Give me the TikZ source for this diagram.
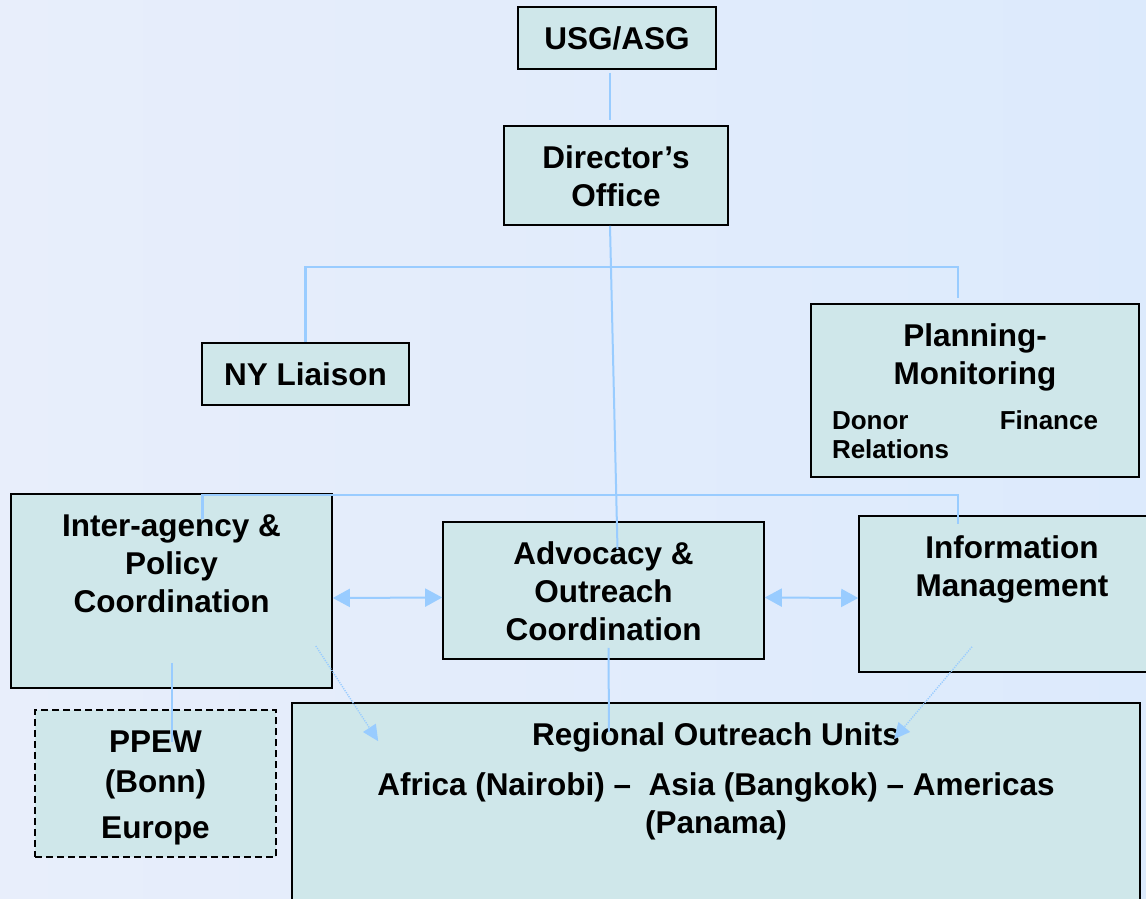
\documentclass[tikz,border=0pt]{standalone}
\usepackage{fontspec}
\setmainfont{Liberation Sans}
\usetikzlibrary{arrows.meta}

\definecolor{unitfill}{RGB}{207,231,234}
\definecolor{linkblue}{RGB}{153,204,255}
\definecolor{bgleft}{RGB}{232,238,251}
\definecolor{bgright}{RGB}{220,234,252}

% text set from the top of a box of given width and height
\newcommand{\unittext}[3]{\parbox[c][#2][t]{#1}{\centering\rule{0pt}{42pt}#3}}

\begin{document}
\begin{tikzpicture}[x=1pt, y=-1pt, thick]
  \tikzset{box/.style={draw=black, line width=1.6pt, fill=unitfill, rectangle, inner sep=0pt,
      font=\bfseries\fontsize{31.5}{38}\selectfont}}
  \tikzset{link/.style={draw=linkblue, line width=2pt}}
  \tikzset{bus/.style={link, line width=2.5pt}}
  \tikzset{both/.style={link, {Triangle[length=17pt,width=18pt]}-{Triangle[length=17pt,width=18pt]}}}
  \tikzset{feed/.style={draw=linkblue, line width=1.4pt, dash pattern=on 1.2pt off 1.2pt,
      -{Triangle[length=16pt,width=15pt]}}}

  \useasboundingbox (0,0) rectangle (1146,898);
  \shade[left color=bgleft, right color=bgright] (0,0) rectangle (1146,898);
  \clip (0,0) rectangle (1146,898);

  \node[box] (usg) at (617,38) {\unittext{198pt}{62pt}{USG/ASG}};
  \node[box] (dir) at (616,175.5) {\unittext{224pt}{99pt}{Director’s\\Office}};
  \node[box] (nyl) at (305.5,374) {\unittext{207pt}{62pt}{NY Liaison}};
  \node[box] (pm) at (975,390.5) {\unittext{328pt}{173pt}{Planning-\\Monitoring\par
      \vspace{16pt}{\fontsize{26}{29}\selectfont\leftskip=21pt\rightskip=41pt
      \parfillskip=0pt plus 1fil Donor\hfill Finance\par Relations\par}}};
  \node[box] (iapc) at (171.5,591) {\unittext{321pt}{194pt}{Inter-agency \&\\Policy\\Coordination}};
  \node[box] (adv) at (603.5,590.5) {\unittext{321pt}{137pt}{Advocacy \&\\Outreach\\Coordination}};
  \node[box] (info) at (1012,594) {\unittext{306pt}{156pt}{Information\\Management}};
  \node[box, dash pattern=on 7pt off 4pt, line width=1.3pt] (ppew) at (155.5,783.5)
      {\unittext{241pt}{147pt}{PPEW\\[2pt](Bonn)\\[8pt]Europe}};
  \node[box] (reg) at (716,816.5) {\unittext{848pt}{227pt}{Regional Outreach Units\\[12pt]%
      Africa (Nairobi) –~ Asia (Bangkok) – Americas\\(Panama)}};

  % Edges
  \draw[link] ([xshift=-7pt,yshift=-3pt]usg.south) -- ([xshift=-6pt,yshift=5pt]dir.north);
  \draw[link] ([xshift=-6pt]dir.south) -- ([xshift=14pt,yshift=-28pt]adv.north);
  \draw[bus] (nyl.north) -- ++(0,-75) -| ([xshift=-17pt,yshift=5pt]pm.north);
  \draw[bus] ([xshift=31pt,yshift=-26pt]iapc.north) -- ++(0,-24) -| ([xshift=-54pt,yshift=-9pt]info.north);

  \draw[both] ([yshift=-7pt]iapc.east) -- ([yshift=-7pt]adv.west);
  \draw[both] ([yshift=-7pt]adv.east) -- ([yshift=-4pt]info.west);

  \draw[link] ([yshift=26pt]iapc.south) -- ([xshift=16pt,yshift=-33pt]ppew.north);
  \draw[link] ([xshift=5pt,yshift=12pt]adv.south) -- ([xshift=-107pt,yshift=-30pt]reg.north);

  \draw[feed] ([xshift=-17pt,yshift=-55pt]iapc.east) -- ([xshift=87pt,yshift=-39pt]reg.north west);
  \draw[feed] ([xshift=-40pt,yshift=26pt]info.south) -- ([xshift=178pt,yshift=-37pt]reg.north);

\end{tikzpicture}
\end{document}
